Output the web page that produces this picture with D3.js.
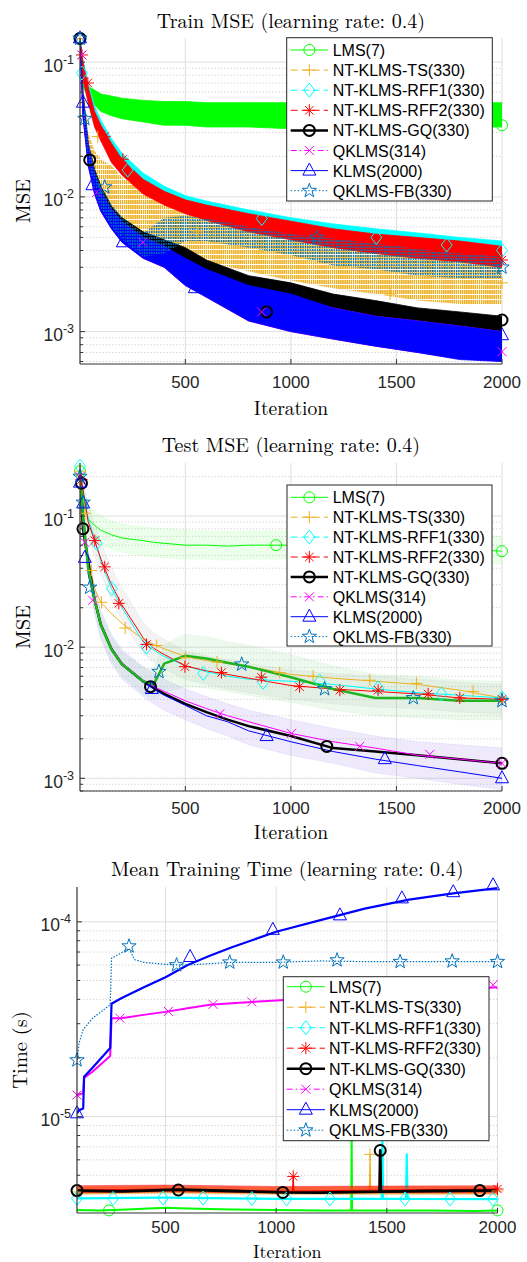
<!DOCTYPE html>
<html>
<head>
<meta charset="utf-8">
<script src="https://cdn.jsdelivr.net/npm/d3@7"></script>
<style>
  body { margin: 0; background: #fff; }
  svg { display: block; }
</style>
</head>
<body>
<svg id="chart" width="527" height="1262"></svg>
<script>
// legend names and x ticks
var names = ['LMS(7)', 'NT-KLMS-TS(330)', 'NT-KLMS-RFF1(330)', 'NT-KLMS-RFF2(330)',
             'NT-KLMS-GQ(330)', 'QKLMS(314)', 'KLMS(2000)', 'QKLMS-FB(330)'];
var xTicks = [500, 1000, 1500, 2000];

// ---- Train MSE (noisy, kept as low / high edge of each band) ----
var trIter    = [1, 15, 40, 70, 100, 150, 200, 300, 400, 500, 600, 800, 1000, 1200, 1400, 1600, 1800, 2000];
var trLmsLo   = [0.15, 0.065, 0.055, 0.048, 0.043, 0.040, 0.038, 0.036, 0.034, 0.034, 0.033, 0.033, 0.032, 0.033, 0.033, 0.033, 0.033, 0.033];
var trLmsHi   = [0.15, 0.085, 0.066, 0.062, 0.058, 0.056, 0.054, 0.052, 0.051, 0.051, 0.050, 0.050, 0.050, 0.049, 0.050, 0.049, 0.050, 0.050];
var trTsLo    = [0.15, 0.05, 0.02, 0.012, 0.009, 0.007, 0.0055, 0.0045, 0.0040, 0.0036, 0.0033, 0.0028, 0.0024, 0.0021, 0.0019, 0.0017, 0.0016, 0.0016];
var trTsHi    = [0.15, 0.07, 0.03, 0.022, 0.019, 0.017, 0.014, 0.011, 0.0095, 0.0088, 0.0082, 0.007, 0.006, 0.0053, 0.0048, 0.0043, 0.004, 0.0036];
var trRff1Lo  = [0.15, 0.075, 0.05, 0.034, 0.027, 0.019, 0.015, 0.011, 0.0089, 0.0077, 0.0069, 0.0057, 0.005, 0.0044, 0.004, 0.0037, 0.0035, 0.0033];
var trRff1Hi  = [0.15, 0.105, 0.07, 0.047, 0.037, 0.027, 0.021, 0.015, 0.012, 0.0102, 0.0093, 0.008, 0.007, 0.0063, 0.0058, 0.0054, 0.005, 0.0047];
var trRff2Lo  = [0.15, 0.075, 0.05, 0.033, 0.026, 0.018, 0.0145, 0.0105, 0.0087, 0.0075, 0.0067, 0.0055, 0.0048, 0.0042, 0.0038, 0.0035, 0.0033, 0.003];
var trRff2Hi  = [0.15, 0.1, 0.065, 0.043, 0.034, 0.025, 0.019, 0.0135, 0.011, 0.0095, 0.0087, 0.0075, 0.0066, 0.0058, 0.0053, 0.005, 0.0047, 0.0043];
var trGqLo    = [0.15, 0.04, 0.018, 0.011, 0.008, 0.006, 0.0048, 0.0037, 0.0032, 0.0026, 0.0021, 0.0017, 0.0015, 0.0012, 0.0011, 0.001, 0.00093, 0.0009];
var trGqHi    = [0.15, 0.06, 0.025, 0.016, 0.012, 0.0085, 0.007, 0.0055, 0.0048, 0.0042, 0.0034, 0.0026, 0.0023, 0.0019, 0.0017, 0.0015, 0.0014, 0.0013];
var trQkLo    = [0.15, 0.04, 0.017, 0.0105, 0.0078, 0.0058, 0.0046, 0.0035, 0.003, 0.0022, 0.0018, 0.0012, 0.001, 0.00088, 0.00078, 0.0007, 0.00063, 0.0006];
var trQkHi    = [0.15, 0.055, 0.024, 0.015, 0.011, 0.008, 0.0065, 0.005, 0.0043, 0.0034, 0.0028, 0.0021, 0.0018, 0.0015, 0.0013, 0.0012, 0.0011, 0.001];
var trKlmsLo  = [0.15, 0.04, 0.017, 0.0105, 0.0078, 0.0058, 0.0046, 0.0035, 0.003, 0.0022, 0.0018, 0.0012, 0.001, 0.00088, 0.00078, 0.0007, 0.00062, 0.0006];
var trKlmsHi  = [0.15, 0.055, 0.024, 0.015, 0.011, 0.008, 0.0065, 0.005, 0.0043, 0.0035, 0.0029, 0.0022, 0.0019, 0.0015, 0.0013, 0.0012, 0.0011, 0.001];
var trFbLo    = [0.15, 0.042, 0.018, 0.011, 0.0082, 0.006, 0.0048, 0.0036, 0.0038, 0.0047, 0.0047, 0.0042, 0.0037, 0.0031, 0.0029, 0.0026, 0.0025, 0.0025];
var trFbHi    = [0.15, 0.058, 0.026, 0.016, 0.012, 0.0088, 0.007, 0.0054, 0.007, 0.0072, 0.0069, 0.006, 0.0053, 0.0049, 0.0045, 0.0041, 0.0038, 0.0036];
// markers [iteration, value]
var trLmsMk  = [[1, 0.15], [975, 0.041], [2000, 0.034]];
var trTsMk   = [[1, 0.15], [85, 0.028], [560, 0.0055], [1470, 0.0019], [2000, 0.0023]];
var trRff1Mk = [[1, 0.15], [10, 0.083], [227, 0.0158], [862, 0.0069], [1405, 0.005], [1738, 0.0044], [2000, 0.004]];
var trRff2Mk = [[10, 0.113], [38, 0.07], [118, 0.028], [204, 0.019], [365, 0.0106], [1042, 0.0054], [2000, 0.0034]];
var trGqMk   = [[1, 0.15], [47, 0.0188], [885, 0.0014], [2000, 0.00122]];
var trQkMk   = [[10, 0.113], [80, 0.0108], [298, 0.0046], [861, 0.0014], [2000, 0.00071]];
var trKlmsMk = [[1, 0.15], [15, 0.05], [60, 0.0122], [204, 0.0046], [545, 0.0021], [2000, 0.00094]];
var trFbMk   = [[1, 0.15], [24, 0.038], [118, 0.0118], [1122, 0.005], [2000, 0.003]];

// ---- Test MSE ----
var teIter   = [1, 15, 40, 70, 100, 150, 200, 300, 350, 400, 500, 600, 700, 800, 1000, 1200, 1400, 1600, 1800, 2000];
var teLms    = [0.22, 0.14, 0.095, 0.085, 0.078, 0.072, 0.068, 0.065, 0.063, 0.062, 0.060, 0.060, 0.059, 0.060, 0.060, 0.058, 0.059, 0.057, 0.056, 0.054];
var teTs     = [0.22, 0.11, 0.045, 0.028, 0.022, 0.018, 0.0152, 0.0115, 0.0105, 0.0097, 0.0085, 0.0079, 0.0075, 0.0071, 0.0062, 0.0058, 0.0055, 0.0052, 0.0047, 0.0041];
var teRff1   = [0.24, 0.16, 0.095, 0.068, 0.045, 0.028, 0.02, 0.011, 0.0095, 0.0085, 0.0072, 0.0065, 0.006, 0.0057, 0.0055, 0.0052, 0.0048, 0.0045, 0.0043, 0.0041];
var teRff2   = [0.22, 0.16, 0.09, 0.065, 0.047, 0.03, 0.021, 0.0118, 0.0098, 0.0088, 0.0072, 0.0066, 0.0062, 0.0058, 0.0051, 0.0048, 0.0046, 0.0044, 0.0041, 0.004];
var teGq     = [0.2, 0.08, 0.045, 0.023, 0.0148, 0.0097, 0.0074, 0.0055, 0.0049, 0.0044, 0.0037, 0.0032, 0.0028, 0.0025, 0.0021, 0.0017, 0.0016, 0.0015, 0.0014, 0.0013];
var teQk     = [0.2, 0.085, 0.042, 0.023, 0.0148, 0.0098, 0.0076, 0.0056, 0.005, 0.0046, 0.0039, 0.0034, 0.003, 0.0027, 0.0022, 0.0019, 0.0017, 0.0015, 0.0014, 0.0013];
var teKlms   = [0.18, 0.125, 0.036, 0.022, 0.0145, 0.0095, 0.0073, 0.0054, 0.0048, 0.0043, 0.0036, 0.003, 0.0027, 0.0023, 0.0019, 0.0016, 0.0014, 0.00125, 0.00112, 0.001];
var teFb     = [0.2, 0.1, 0.04, 0.023, 0.0147, 0.0096, 0.0074, 0.0055, 0.0052, 0.0075, 0.0086, 0.0082, 0.0076, 0.0071, 0.0059, 0.0048, 0.0041, 0.0041, 0.0039, 0.0039];
// shaded spread
var teLmsLo  = [0.2, 0.11, 0.075, 0.065, 0.06, 0.056, 0.053, 0.05, 0.049, 0.048, 0.047, 0.047, 0.046, 0.047, 0.047, 0.046, 0.046, 0.045, 0.044, 0.043];
var teLmsHi  = [0.24, 0.16, 0.12, 0.108, 0.1, 0.092, 0.087, 0.083, 0.081, 0.08, 0.078, 0.077, 0.076, 0.077, 0.077, 0.075, 0.076, 0.073, 0.072, 0.07];
var teFbLo   = [0.18, 0.08, 0.035, 0.019, 0.012, 0.0078, 0.006, 0.0044, 0.004, 0.0045, 0.005, 0.0049, 0.0046, 0.0043, 0.0038, 0.0033, 0.003, 0.0029, 0.0028, 0.0028];
var teFbHi   = [0.22, 0.12, 0.05, 0.028, 0.018, 0.012, 0.0092, 0.007, 0.0068, 0.0105, 0.0125, 0.012, 0.011, 0.0103, 0.0088, 0.0072, 0.0062, 0.006, 0.0056, 0.0055];
var teKlmsLo = [0.18, 0.075, 0.035, 0.018, 0.0115, 0.0075, 0.0057, 0.0042, 0.0037, 0.0033, 0.0028, 0.0024, 0.0021, 0.0018, 0.0015, 0.0013, 0.0011, 0.001, 0.0009, 0.00082];
var teKlmsHi = [0.22, 0.11, 0.055, 0.029, 0.019, 0.0125, 0.0096, 0.0071, 0.0063, 0.0057, 0.0048, 0.0042, 0.0037, 0.0033, 0.0028, 0.0024, 0.0021, 0.0019, 0.0018, 0.0017];
var teRffLo  = [0.2, 0.13, 0.07, 0.05, 0.036, 0.023, 0.016, 0.009, 0.0076, 0.0068, 0.0057, 0.0052, 0.0048, 0.0045, 0.004, 0.0037, 0.0035, 0.0034, 0.0032, 0.0031];
var teRffHi  = [0.25, 0.2, 0.12, 0.088, 0.063, 0.04, 0.028, 0.0155, 0.0128, 0.0115, 0.0093, 0.0086, 0.008, 0.0075, 0.0067, 0.0063, 0.006, 0.0057, 0.0054, 0.0052];
var teLmsMk  = [[1, 0.22], [930, 0.06], [2000, 0.054]];
var teTsMk   = [[1, 0.22], [24, 0.105], [55, 0.0385], [103, 0.022], [215, 0.014], [364, 0.0103], [500, 0.0083], [650, 0.0077], [947, 0.0064], [1105, 0.006], [1374, 0.0056], [1595, 0.0053], [1863, 0.0046], [2000, 0.0041]];
var teRff1Mk = [[1, 0.24], [80, 0.062], [152, 0.028], [316, 0.01], [585, 0.0063], [868, 0.0054], [1137, 0.0055], [1413, 0.0049], [1713, 0.0044], [2000, 0.0041]];
var teRff2Mk = [[8, 0.19], [71, 0.065], [118, 0.041], [185, 0.0216], [316, 0.0105], [498, 0.0071], [671, 0.0064], [860, 0.0059], [1041, 0.005], [1232, 0.0047], [1413, 0.0047], [1650, 0.0044], [1800, 0.0041], [2000, 0.004]];
var teGqMk   = [[8, 0.178], [15, 0.08], [335, 0.005], [1170, 0.00175], [2000, 0.0013]];
var teQkMk   = [[1, 0.2], [24, 0.063], [61, 0.0228], [663, 0.0031], [1003, 0.0022], [1326, 0.00175], [1658, 0.00152], [2000, 0.0013]];
var teKlmsMk = [[1, 0.18], [16, 0.125], [24, 0.048], [341, 0.0048], [885, 0.0021], [1445, 0.0014], [2000, 0.001]];
var teFbMk   = [[1, 0.2], [16, 0.127], [47, 0.0285], [375, 0.0065], [767, 0.0074], [1160, 0.0048], [1580, 0.0041], [2000, 0.0039]];

// ---- Mean training time ----
var tmIter    = [100, 110, 128, 132, 170, 250, 256, 300, 400, 500, 600, 700, 800, 1000, 1200, 1400, 1600, 1800, 2000];
var tmKlms    = [1.04e-5, 1.08e-5, 1.1e-5, 1.6e-5, 1.78e-5, 2.25e-5, 3.8e-5, 4.05e-5, 4.6e-5, 5.2e-5, 6.0e-5, 6.7e-5, 7.4e-5, 8.9e-5, 1.02e-4, 1.17e-4, 1.3e-4, 1.4e-4, 1.49e-4];
var tmQk      = [1.29e-5, 1.3e-5, 1.32e-5, 1.58e-5, 1.7e-5, 2.05e-5, 3.2e-5, 3.2e-5, 3.33e-5, 3.45e-5, 3.6e-5, 3.75e-5, 3.82e-5, 3.95e-5, 4.08e-5, 4.2e-5, 4.33e-5, 4.48e-5, 4.62e-5];
var tmFbIter  = [100, 110, 128, 170, 250, 256, 335, 360, 400, 500, 600, 800, 1000, 1200, 1400, 1600, 1800, 2000];
var tmFb      = [1.95e-5, 2.4e-5, 2.8e-5, 3.2e-5, 3.75e-5, 6.5e-5, 7.3e-5, 6.4e-5, 6.2e-5, 6.05e-5, 6.0e-5, 6.2e-5, 6.2e-5, 6.3e-5, 6.25e-5, 6.25e-5, 6.25e-5, 6.25e-5];
var tmLmsIter = [100, 200, 300, 400, 500, 600, 800, 1000, 1200, 1339, 1341, 1343, 1500, 1700, 1900, 2000];
var tmLms     = [3.32e-6, 3.3e-6, 3.33e-6, 3.36e-6, 3.4e-6, 3.37e-6, 3.34e-6, 3.32e-6, 3.3e-6, 3.3e-6, 8.0e-6, 3.3e-6, 3.3e-6, 3.3e-6, 3.28e-6, 3.3e-6];
var tmTsIter  = [100, 500, 1000, 1421, 1424, 1427, 2000];
var tmTs      = [4.1e-6, 4.15e-6, 4.1e-6, 4.1e-6, 6.4e-6, 4.1e-6, 4.15e-6];
var tmRff1Iter = [100, 500, 1000, 1477, 1480, 1483, 1587, 1590, 1593, 2000];
var tmRff1    = [3.8e-6, 3.84e-6, 3.78e-6, 3.78e-6, 9.0e-6, 3.78e-6, 3.78e-6, 6.4e-6, 3.78e-6, 3.77e-6];
var tmRff2Iter = [100, 500, 1000, 1074, 1077, 1080, 1500, 2000];
var tmRff2    = [4.2e-6, 4.25e-6, 4.15e-6, 4.15e-6, 4.93e-6, 4.15e-6, 4.2e-6, 4.25e-6];
var tmGqIter  = [100, 300, 560, 800, 1030, 1200, 1467, 1470, 1473, 1700, 1920, 2000];
var tmGq      = [4.17e-6, 4.13e-6, 4.22e-6, 4.15e-6, 4.08e-6, 4.07e-6, 4.12e-6, 6.7e-6, 4.12e-6, 4.15e-6, 4.17e-6, 4.18e-6];
// noise spread of the bottom group
var tmBandIter = [100, 500, 1000, 1500, 2000];
var tmRff2Lo  = [4.05e-6, 4.1e-6, 4.05e-6, 4.05e-6, 4.05e-6];
var tmRff2Hi  = [4.42e-6, 4.45e-6, 4.38e-6, 4.4e-6, 4.42e-6];
var tmTsLo    = [4.0e-6, 4.05e-6, 4.0e-6, 4.0e-6, 4.0e-6];
var tmTsHi    = [4.35e-6, 4.38e-6, 4.32e-6, 4.35e-6, 4.35e-6];
var tmLmsMk  = [[245, 3.3e-6], [1341, 8.0e-6], [2000, 3.3e-6]];
var tmTsMk   = [[100, 4.1e-6], [1424, 6.4e-6], [2000, 4.15e-6]];
var tmRff1Mk = [[100, 3.8e-6], [263, 3.8e-6], [489, 3.82e-6], [670, 3.82e-6], [890, 3.8e-6], [1047, 3.78e-6], [1243, 3.78e-6], [1480, 9.0e-6], [1582, 3.78e-6], [1786, 3.78e-6], [1980, 3.77e-6]];
var tmRff2Mk = [[1077, 4.93e-6], [2000, 4.25e-6]];
var tmGqMk   = [[100, 4.17e-6], [558, 4.2e-6], [1030, 4.08e-6], [1470, 6.7e-6], [1920, 4.17e-6]];
var tmQkMk   = [[100, 1.29e-5], [294, 3.2e-5], [513, 3.47e-5], [715, 3.77e-5], [890, 3.88e-5], [1062, 4.0e-5], [1410, 4.2e-5], [1636, 4.35e-5], [1822, 4.48e-5], [1980, 4.75e-5]];
var tmKlmsMk = [[100, 1.04e-5], [611, 6.6e-5], [985, 9.1e-5], [1288, 1.08e-4], [1568, 1.32e-4], [1800, 1.42e-4], [1980, 1.54e-4]];
var tmFbMk   = [[100, 1.95e-5], [335, 7.5e-5], [550, 6.0e-5], [790, 6.2e-5], [1032, 6.2e-5], [1275, 6.36e-5], [1560, 6.24e-5], [1795, 6.28e-5], [2000, 6.24e-5]];

// ---- styles ----
var styles = [
  { color: '#00ff00', dash: null,        width: 1,   marker: 'o', mw: 1 },
  { color: '#edb120', dash: '7,4',       width: 1,   marker: '+', mw: 1 },
  { color: '#00ffff', dash: '7,4',       width: 1,   marker: 'd', mw: 1 },
  { color: '#ff0000', dash: '7,4',       width: 1,   marker: '*', mw: 1 },
  { color: '#000000', dash: null,        width: 2.5, marker: 'o', mw: 2 },
  { color: '#ff00ff', dash: '6,3,1.5,3', width: 1,   marker: 'x', mw: 1 },
  { color: '#0000ff', dash: null,        width: 1,   marker: '^', mw: 1 },
  { color: '#0072bd', dash: '1.5,2',     width: 1,   marker: 'p', mw: 1 }
];

var svg = d3.select('#chart');
var serif = '"Latin Modern Roman","CMU Serif","Liberation Serif","Times New Roman",serif';
var sans = '"Liberation Sans",Arial,Helvetica,sans-serif';

// vertical hatch patterns to mimic the dense noisy dashed / dotted traces
var defs = svg.append('defs');
[['hatchTs', '#edb120', 1.5, 2.1, 4, 5], ['hatchFb', '#0072bd', 1.3, 2.4, 2, 3]].forEach(function(h) {
  var pat = defs.append('pattern').attr('id', h[0]).attr('patternUnits', 'userSpaceOnUse')
    .attr('width', h[3]).attr('height', h[5]);
  pat.append('rect').attr('x', 0).attr('y', 0).attr('width', h[2]).attr('height', h[4])
    .attr('fill', h[1]);
});

function markerPath(m) {
  if (m == 'o') return 'M5.5,0A5.5,5.5 0 1,1 -5.5,0A5.5,5.5 0 1,1 5.5,0Z';
  if (m == '+') return 'M-6,0H6M0,-6V6';
  if (m == 'd') return 'M0,-7L5.5,0L0,7L-5.5,0Z';
  if (m == '*') return 'M-6,0H6M0,-6V6M-4.2,-4.2L4.2,4.2M-4.2,4.2L4.2,-4.2';
  if (m == 'x') return 'M-4.5,-4.5L4.5,4.5M-4.5,4.5L4.5,-4.5';
  if (m == '^') return 'M0,-7.5L6.5,4.5L-6.5,4.5Z';
  // pentagram
  var pts = [];
  for (var k = 0; k < 10; k++) {
    var r = (k % 2 == 0) ? 7.5 : 3;
    var a = -Math.PI / 2 + k * Math.PI / 5;
    pts.push((r * Math.cos(a)).toFixed(2) + ',' + (r * Math.sin(a)).toFixed(2));
  }
  return 'M' + pts.join('L') + 'Z';
}

function makePanel(p) {
  var x = d3.scaleLinear().domain(p.xd).range([p.l, p.r]);
  var y = d3.scaleLog().domain(p.yd).range([p.b, p.t]);
  var g = svg.append('g');
  var major = [], minor = [];
  for (var e = -7; e <= 0; e++) {
    for (var k = 1; k < 10; k++) {
      var v = k * Math.pow(10, e);
      if (v >= p.yd[0] && v <= p.yd[1]) (k == 1 ? major : minor).push(v);
    }
  }
  // grid
  g.selectAll('.mg').data(minor).enter().append('line')
    .attr('x1', p.l).attr('x2', p.r)
    .attr('y1', function(d) { return y(d); }).attr('y2', function(d) { return y(d); })
    .attr('stroke', '#bdbdbd').attr('stroke-width', 0.8).attr('stroke-dasharray', '1,2.2');
  g.selectAll('.Mg').data(major).enter().append('line')
    .attr('x1', p.l).attr('x2', p.r)
    .attr('y1', function(d) { return y(d); }).attr('y2', function(d) { return y(d); })
    .attr('stroke', '#dedede').attr('stroke-width', 1);
  g.selectAll('.xg').data(xTicks).enter().append('line')
    .attr('x1', function(d) { return x(d); }).attr('x2', function(d) { return x(d); })
    .attr('y1', p.t).attr('y2', p.b)
    .attr('stroke', '#dedede').attr('stroke-width', 1);

  var clipId = 'clip' + p.id;
  svg.append('clipPath').attr('id', clipId).append('rect')
    .attr('x', p.l).attr('y', p.t).attr('width', p.r - p.l).attr('height', p.b - p.t);
  var plot = svg.append('g').attr('clip-path', 'url(#' + clipId + ')');
  var marks = svg.append('g');
  var axes = svg.append('g');

  // axis lines and ticks
  axes.append('line').attr('x1', p.l).attr('x2', p.l).attr('y1', p.t).attr('y2', p.b)
    .attr('stroke', '#333').attr('stroke-width', 1.2);
  axes.append('line').attr('x1', p.l).attr('x2', p.r).attr('y1', p.b).attr('y2', p.b)
    .attr('stroke', '#333').attr('stroke-width', 1.2);
  axes.selectAll('.xt').data(xTicks).enter().append('line')
    .attr('x1', function(d) { return x(d); }).attr('x2', function(d) { return x(d); })
    .attr('y1', p.b).attr('y2', p.b - 5).attr('stroke', '#333');
  axes.selectAll('.yt').data(major).enter().append('line')
    .attr('x1', p.l).attr('x2', p.l + 5)
    .attr('y1', function(d) { return y(d); }).attr('y2', function(d) { return y(d); })
    .attr('stroke', '#333');
  axes.selectAll('.ymt').data(minor).enter().append('line')
    .attr('x1', p.l).attr('x2', p.l + 3)
    .attr('y1', function(d) { return y(d); }).attr('y2', function(d) { return y(d); })
    .attr('stroke', '#333');

  // tick labels
  axes.selectAll('.xl').data(xTicks).enter().append('text')
    .attr('x', function(d) { return x(d); }).attr('y', p.xtY)
    .attr('text-anchor', 'middle').attr('font-family', sans).attr('font-size', 17)
    .attr('fill', '#262626').text(function(d) { return d; });
  major.forEach(function(v) {
    var t = axes.append('text').attr('x', p.l - 6).attr('y', y(v) + 9.5)
      .attr('text-anchor', 'end').attr('font-family', sans).attr('font-size', 17.5).attr('fill', '#262626');
    t.append('tspan').text('10');
    t.append('tspan').attr('dy', -8).attr('font-size', 12.5).text(Math.round(Math.log10(v)));
  });

  // title and labels
  axes.append('text').attr('x', (p.l + p.r) / 2).attr('y', p.titleY)
    .attr('text-anchor', 'middle').attr('font-family', serif).attr('font-size', 20).text(p.title);
  axes.append('text').attr('x', (p.l + p.r) / 2).attr('y', p.xlabY)
    .attr('text-anchor', 'middle').attr('font-family', serif).attr('font-size', p.xlabSize || 19.5).text('Iteration');
  axes.append('text').attr('transform', 'translate(' + p.ylabX + ',' + ((p.t + p.b) / 2) + ') rotate(-90)')
    .attr('text-anchor', 'middle').attr('font-family', serif).attr('font-size', 20.5).text(p.ylab);

  return { x: x, y: y, plot: plot, marks: marks, top: svg.append('g') };
}

function zip(its, a, b) {
  return its.map(function(it, i) { return b ? [it, a[i], b[i]] : [it, a[i]]; });
}

function band(P, its, lo, hi, color, op, fill) {
  var area = d3.area()
    .x(function(d) { return P.x(d[0]); })
    .y0(function(d) { return P.y(d[1]); })
    .y1(function(d) { return P.y(d[2]); });
  P.plot.append('path').datum(zip(its, lo, hi)).attr('d', area)
    .attr('fill', fill || color).attr('fill-opacity', op)
    .attr('stroke', fill ? 'none' : color).attr('stroke-opacity', op).attr('stroke-width', 0.8);
}

function line(P, its, vals, color, width, dash) {
  var ln = d3.line().x(function(d) { return P.x(d[0]); }).y(function(d) { return P.y(d[1]); });
  P.plot.append('path').datum(zip(its, vals)).attr('d', ln)
    .attr('fill', 'none').attr('stroke', color).attr('stroke-width', width)
    .attr('stroke-linejoin', 'round').attr('stroke-dasharray', dash);
}

function markers(P, pts, s) {
  P.marks.selectAll(null).data(pts).enter().append('path')
    .attr('d', markerPath(s.marker))
    .attr('transform', function(d) { return 'translate(' + P.x(d[0]) + ',' + P.y(d[1]) + ')'; })
    .attr('fill', 'none').attr('stroke', s.color).attr('stroke-width', s.mw);
}

function legend(P, lg) {
  var g = P.top;
  g.append('rect').attr('x', lg.x0).attr('y', lg.y0)
    .attr('width', lg.x1 - lg.x0).attr('height', lg.y1 - lg.y0)
    .attr('fill', '#fff').attr('stroke', '#262626').attr('stroke-width', 1);
  names.forEach(function(n, i) {
    var s = styles[i];
    var cy = lg.row0 + i * lg.dy;
    g.append('line').attr('x1', lg.lx0).attr('x2', lg.lx1).attr('y1', cy).attr('y2', cy)
      .attr('stroke', s.color).attr('stroke-width', s.width).attr('stroke-dasharray', s.dash);
    g.append('path').attr('d', markerPath(s.marker))
      .attr('transform', 'translate(' + ((lg.lx0 + lg.lx1) / 2) + ',' + cy + ')')
      .attr('fill', 'none').attr('stroke', s.color).attr('stroke-width', s.mw);
    g.append('text').attr('x', lg.tx).attr('y', cy + 6)
      .attr('font-family', sans).attr('font-size', 16).attr('fill', '#000').text(n);
  });
}

// ---------- panel 1 ----------
var P1 = makePanel({ id: 1, l: 80, r: 502, t: 38, b: 364, xd: [1, 2000], yd: [5.75e-4, 0.151],
  title: 'Train MSE (learning rate: 0.4)', titleY: 28, xtY: 387.5, xlabY: 414.5, ylab: 'MSE', ylabX: 30 });
var trLo = [trLmsLo, trTsLo, trRff1Lo, trRff2Lo, trGqLo, trQkLo, trKlmsLo, trFbLo];
var trHi = [trLmsHi, trTsHi, trRff1Hi, trRff2Hi, trGqHi, trQkHi, trKlmsHi, trFbHi];
var trMk = [trLmsMk, trTsMk, trRff1Mk, trRff2Mk, trGqMk, trQkMk, trKlmsMk, trFbMk];
var trFill = [null, 'url(#hatchTs)', null, null, null, null, null, 'url(#hatchFb)'];
styles.forEach(function(s, i) {
  band(P1, trIter, trLo[i], trHi[i], s.color, 1, trFill[i]);
  markers(P1, trMk[i], s);
});
legend(P1, { x0: 286.7, y0: 37.7, x1: 492.3, y1: 201, row0: 50, dy: 20.1, lx0: 290.7, lx1: 328, tx: 332.7 });

// ---------- panel 2 ----------
var P2 = makePanel({ id: 2, l: 80, r: 502, t: 463, b: 791, xd: [1, 2000], yd: [8e-4, 0.254],
  title: 'Test MSE (learning rate: 0.4)', titleY: 452, xtY: 813.5, xlabY: 839, ylab: 'MSE', ylabX: 30 });
band(P2, teIter, teRffLo, teRffHi, '#9a9a9a', 0.12);
band(P2, teIter, teLmsLo, teLmsHi, '#66ff66', 0.13);
band(P2, teIter, teFbLo, teFbHi, '#8fdc8f', 0.16);
band(P2, teIter, teKlmsLo, teKlmsHi, '#a894f0', 0.2);
var teVals = [teLms, teTs, teRff1, teRff2, teGq, teQk, teKlms, teFb];
var teMk = [teLmsMk, teTsMk, teRff1Mk, teRff2Mk, teGqMk, teQkMk, teKlmsMk, teFbMk];
styles.forEach(function(s, i) {
  var col = i == 7 ? '#1fb51f' : s.color;
  var w = i == 7 ? 2.5 : s.width;
  line(P2, teIter, teVals[i], col, w, null);
  markers(P2, teMk[i], s);
});
legend(P2, { x0: 287, y0: 485, x1: 492, y1: 646, row0: 497.3, dy: 19.9, lx0: 290.7, lx1: 328, tx: 332.7 });

// ---------- panel 3 ----------
var P3 = makePanel({ id: 3, l: 77, r: 497.5, t: 887, b: 1213, xd: [100, 2000], yd: [3.2e-6, 1.51e-4],
  title: 'Mean Training Time (learning rate: 0.4)', titleY: 876, xtY: 1233, xlabY: 1258, xlabSize: 18,
  ylab: 'Time (s)', ylabX: 27 });
line(P3, tmLmsIter, tmLms, styles[0].color, 2, null);
markers(P3, tmLmsMk, styles[0]);
band(P3, tmBandIter, tmTsLo, tmTsHi, styles[1].color, 0.6);
line(P3, tmTsIter, tmTs, styles[1].color, 1.2, null);
markers(P3, tmTsMk, styles[1]);
line(P3, tmRff1Iter, tmRff1, styles[2].color, 2.2, null);
markers(P3, tmRff1Mk, styles[2]);
band(P3, tmBandIter, tmRff2Lo, tmRff2Hi, styles[3].color, 0.55);
line(P3, tmRff2Iter, tmRff2, styles[3].color, 1.2, null);
markers(P3, tmRff2Mk, styles[3]);
line(P3, tmGqIter, tmGq, styles[4].color, 2.8, null);
markers(P3, tmGqMk, styles[4]);
line(P3, tmIter, tmQk, styles[5].color, 2, null);
markers(P3, tmQkMk, styles[5]);
line(P3, tmIter, tmKlms, styles[6].color, 2.2, null);
markers(P3, tmKlmsMk, styles[6]);
line(P3, tmFbIter, tmFb, styles[7].color, 1.2, '1.5,1.5');
markers(P3, tmFbMk, styles[7]);
legend(P3, { x0: 283.3, y0: 976.7, x1: 489, y1: 1140.7, row0: 986.7, dy: 20.5, lx0: 286.7, lx1: 325, tx: 329 });
</script>
</body>
</html>
